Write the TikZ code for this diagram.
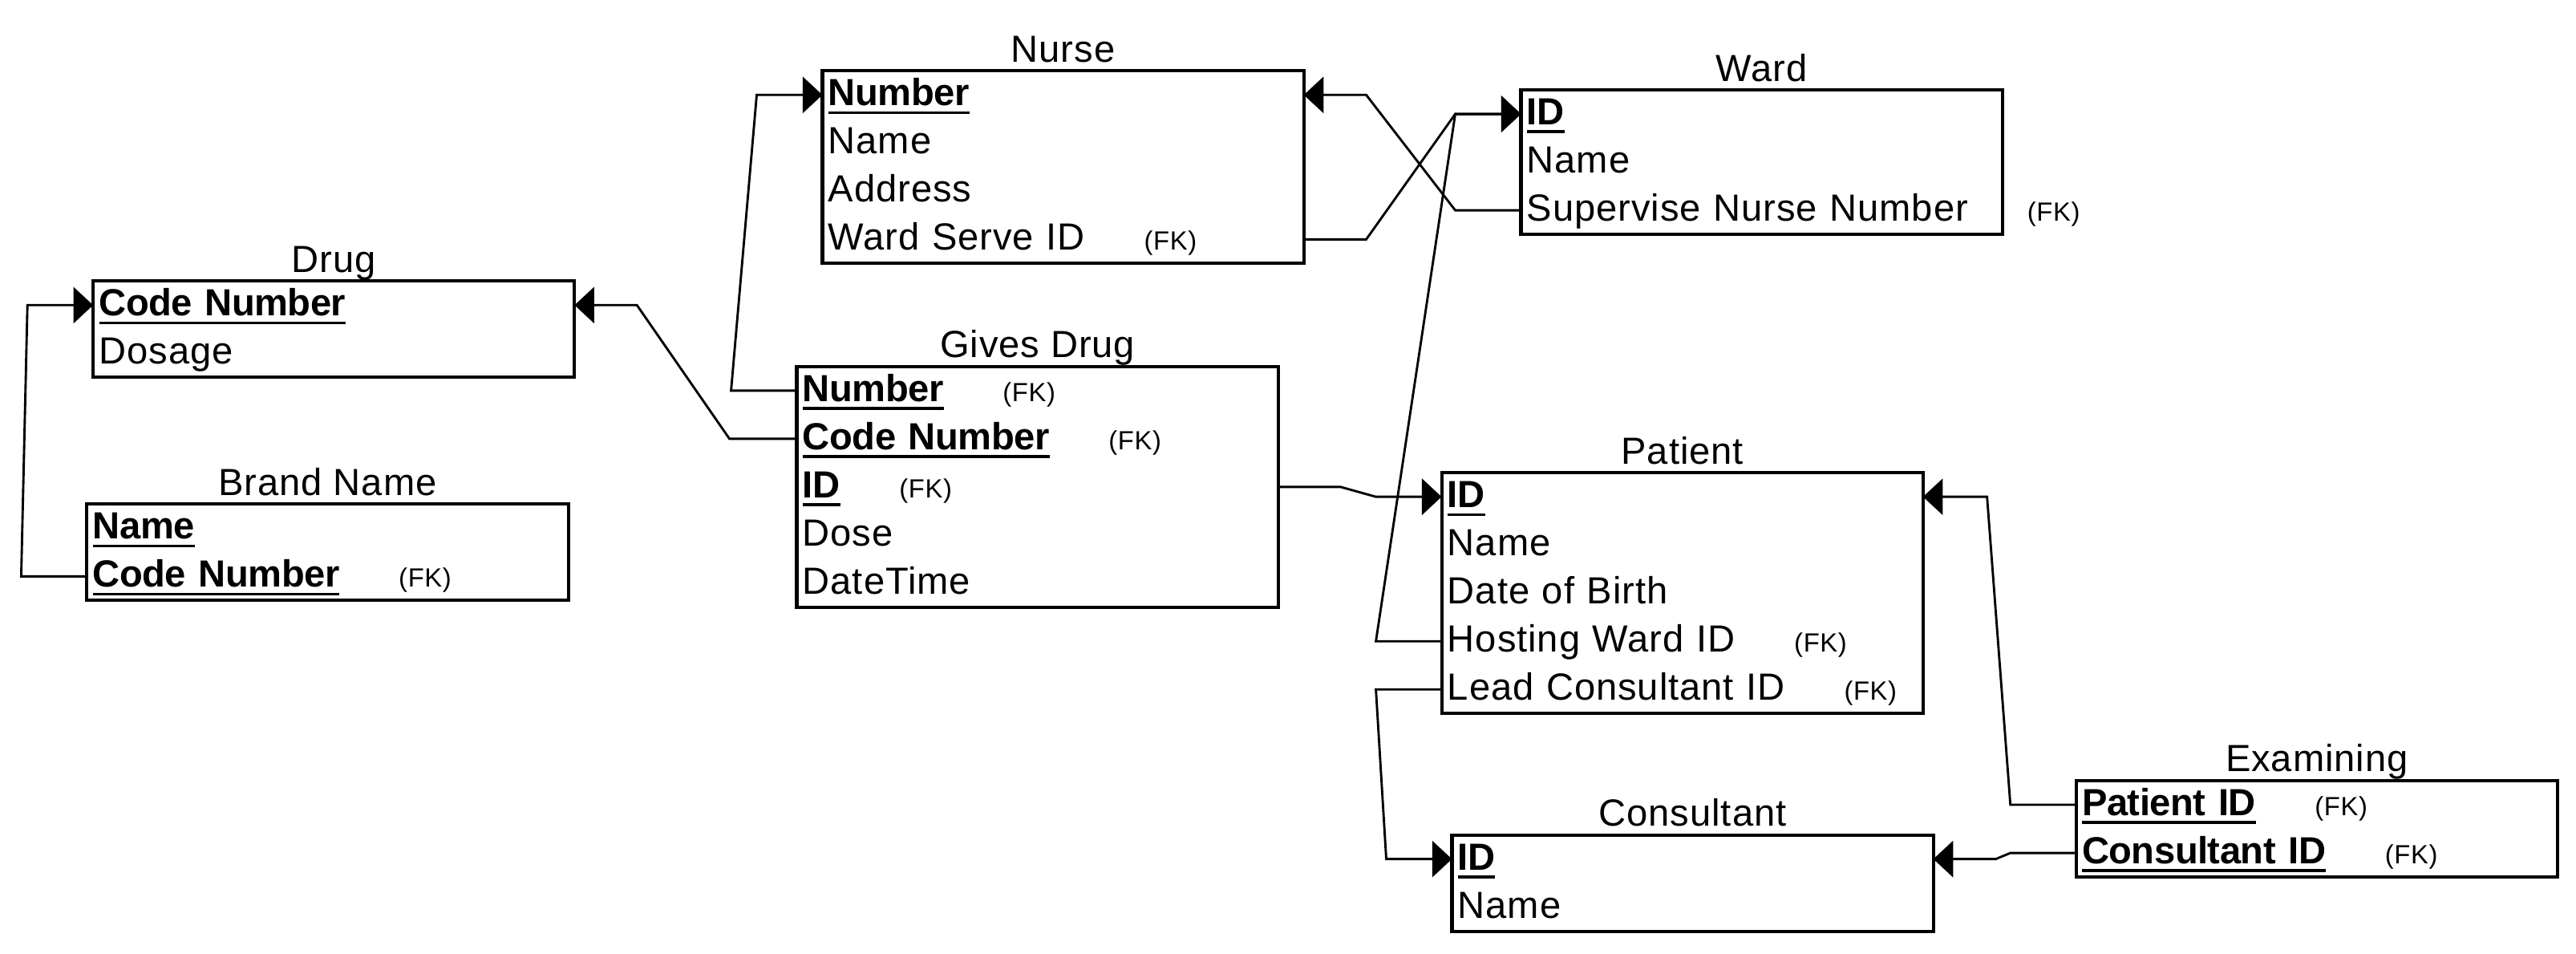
\documentclass[tikz,border=0pt]{standalone}
\usepackage{fontspec}
\setmainfont{Liberation Sans}[UprightFeatures={LetterSpace=2}, BoldFeatures={LetterSpace=-1}]
\usetikzlibrary{positioning,calc,arrows.meta}

% key field: bold, underlined
\newcommand\pk[1]{\leavevmode\setbox0\hbox{\bfseries #1}\rlap{\rule[-2.6pt]{\wd0}{0.9pt}}\box0}
% foreign key mark
\newcommand\fk{\rlap{\hspace{18pt}\fontsize{8pt}{9pt}\selectfont(FK)}}

\tikzset{
  entity/.style={draw, line width=1pt, minimum width=146.5pt, inner sep=0pt, outer sep=0pt, anchor=north west},
  attr/.style={inner xsep=1.8pt, inner ysep=0pt, outer sep=0pt, text width=142.9pt, align=left,
               text height=10.6pt, text depth=4.05pt},
  ename/.style={inner sep=0pt, text depth=0pt},
  link/.style={line width=0.7pt, -{Triangle[length=6pt,width=11pt]}}
}

\begin{document}
\begin{tikzpicture}[x=0.5pt, y=-0.5pt, font=\fontsize{11.5pt}{13.8pt}\selectfont]
\fill[white] (0,0) rectangle (1568,580);
\useasboundingbox (0,0) rectangle (1568,580);

% Drug
\node[entity, minimum height=29.3pt] (drug) at (56.7,171) {};
\node[ename, above=2.5pt of drug] {Drug};
\node[attr, anchor=north west] (drug-1) at (drug.north west) {\pk{Code Number}};
\node[attr, below=0pt of drug-1] (drug-2) {Dosage};

% Brand Name
\node[entity, minimum height=29.3pt] (brand) at (52.9,306.7) {};
\node[ename, above=2.5pt of brand] {Brand Name};
\node[attr, anchor=north west] (brand-1) at (brand.north west) {\pk{Name}};
\node[attr, below=0pt of brand-1] (brand-2) {\pk{Code Number}\fk};

% Nurse
\node[entity, minimum height=58.6pt] (nurse) at (500.6,43.1) {};
\node[ename, above=2.5pt of nurse] {Nurse};
\node[attr, anchor=north west] (nurse-1) at (nurse.north west) {\pk{Number}};
\node[attr, below=0pt of nurse-1] (nurse-2) {Name};
\node[attr, below=0pt of nurse-2] (nurse-3) {Address};
\node[attr, below=0pt of nurse-3] (nurse-4) {Ward Serve ID\fk};

% Ward
\node[entity, minimum height=43.95pt] (ward) at (925.8,54.7) {};
\node[ename, above=2.5pt of ward] {Ward};
\node[attr, anchor=north west] (ward-1) at (ward.north west) {\pk{ID}};
\node[attr, below=0pt of ward-1] (ward-2) {Name};
\node[attr, below=0pt of ward-2] (ward-3) {Supervise Nurse Number\fk};

% Gives Drug
\node[entity, minimum height=73.25pt] (gives) at (485,223) {};
\node[ename, above=2.5pt of gives] {Gives Drug};
\node[attr, anchor=north west] (gives-1) at (gives.north west) {\pk{Number}\fk};
\node[attr, below=0pt of gives-1] (gives-2) {\pk{Code Number}\fk};
\node[attr, below=0pt of gives-2] (gives-3) {\pk{ID}\fk};
\node[attr, below=0pt of gives-3] (gives-4) {Dose};
\node[attr, below=0pt of gives-4] (gives-5) {DateTime};

% Patient
\node[entity, minimum height=73.25pt] (patient) at (877.5,287.6) {};
\node[ename, above=2.5pt of patient] {Patient};
\node[attr, anchor=north west] (patient-1) at (patient.north west) {\pk{ID}};
\node[attr, below=0pt of patient-1] (patient-2) {Name};
\node[attr, below=0pt of patient-2] (patient-3) {Date of Birth};
\node[attr, below=0pt of patient-3] (patient-4) {Hosting Ward ID\fk};
\node[attr, below=0pt of patient-4] (patient-5) {Lead Consultant ID\fk};

% Consultant
\node[entity, minimum height=29.3pt] (consultant) at (883.8,508) {};
\node[ename, above=2.5pt of consultant] {Consultant};
\node[attr, anchor=north west] (consultant-1) at (consultant.north west) {\pk{ID}};
\node[attr, below=0pt of consultant-1] (consultant-2) {Name};

% Examining
\node[entity, minimum height=29.3pt] (exam) at (1263.7,475) {};
\node[ename, above=2.5pt of exam] {Examining};
\node[attr, anchor=north west] (exam-1) at (exam.north west) {\pk{Patient ID}\fk};
\node[attr, below=0pt of exam-1] (exam-2) {\pk{Consultant ID}\fk};

% relationships
\draw[link] (brand-2.west) -- ++(-40,0) -- ($(drug-1.west)+(-40,0)$) -- (drug-1.west);
\draw[link] (gives-2.west) -- ++(-41,0) -- ($(drug-1.east)+(38,0)$) -- (drug-1.east);
\draw[link] (gives-1.west) -- ++(-40,0) -- ($(nurse-1.west)+(-40,0)$) -- (nurse-1.west);
\draw[link] (ward-3.west) -- ++(-40,0) -- ($(nurse-1.east)+(38,0)$) -- (nurse-1.east);
\draw[link] (nurse-4.east) -- ++(38,0) -- ($(ward-1.west)+(-40,0)$) -- (ward-1.west);
\draw[link] (patient-4.west) -- ++(-40,0) -- ($(ward-1.west)+(-40,0)$) -- (ward-1.west);
\draw[link] (gives-3.east) -- ++(38,0) -- ($(patient-1.west)+(-40,0)$) -- (patient-1.west);
\draw[link] (patient-5.west) -- ++(-40,0) -- ($(consultant-1.west)+(-40,0)$) -- (consultant-1.west);
\draw[link] (exam-1.west) -- ++(-40,0) -- ($(patient-1.east)+(39,0)$) -- (patient-1.east);
\draw[link] (exam-2.west) -- ++(-40,0) -- ($(consultant-1.east)+(38,0)$) -- (consultant-1.east);
\end{tikzpicture}
\end{document}
